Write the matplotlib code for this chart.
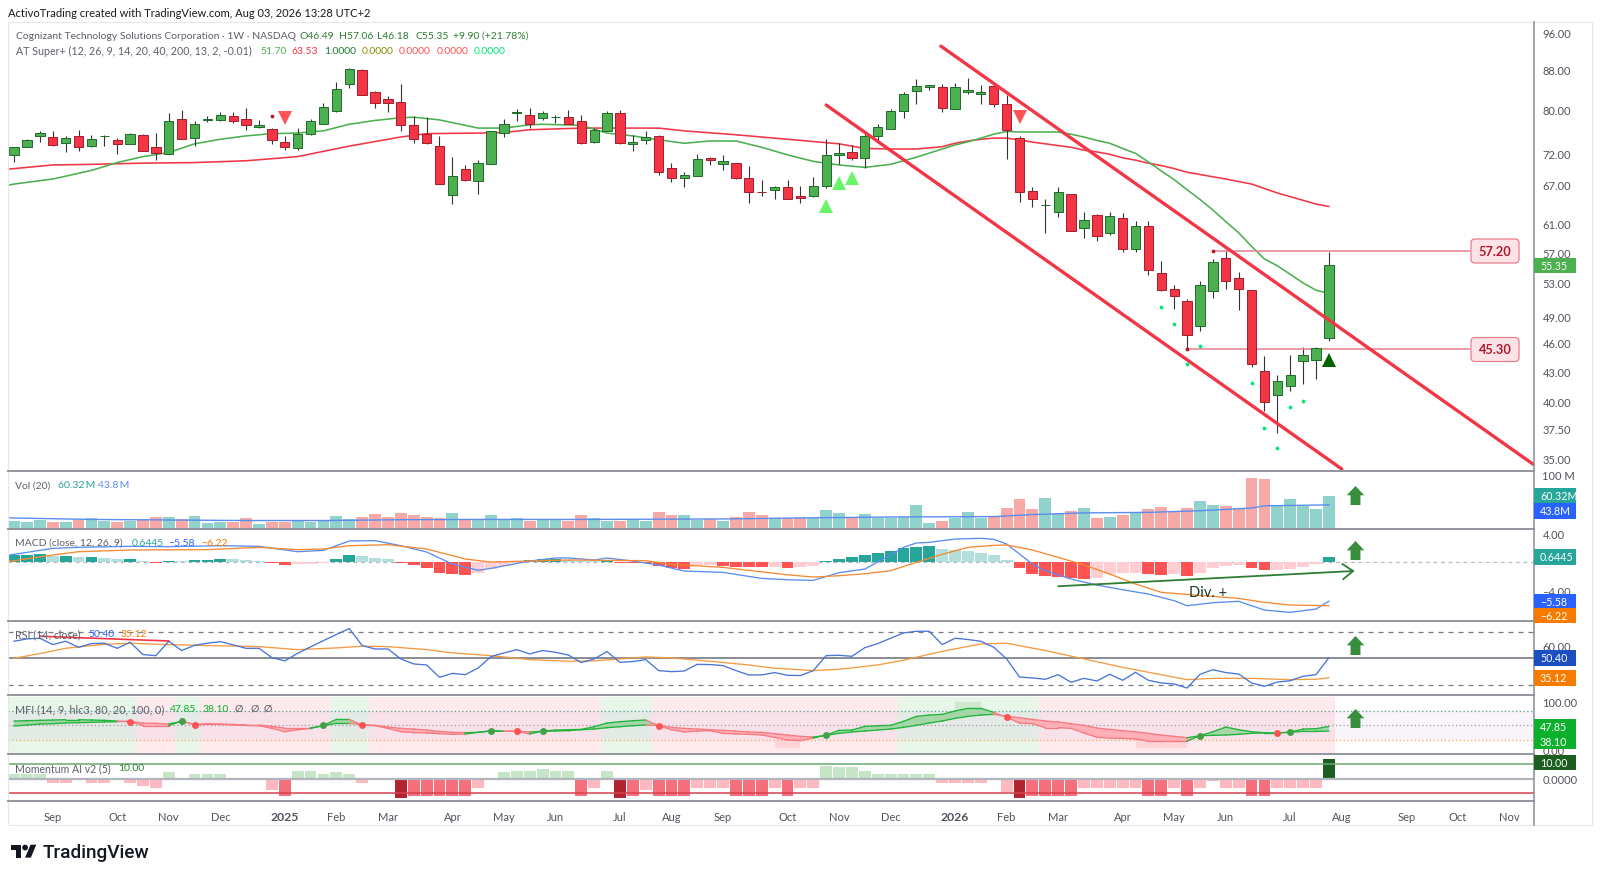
import matplotlib
matplotlib.use("Agg")
import matplotlib.pyplot as plt
from matplotlib.patches import FancyBboxPatch, Rectangle, Polygon, Circle
from matplotlib.path import Path
from matplotlib.ticker import NullLocator, FixedLocator, FixedFormatter

plt.rcParams['font.family'] = ['Lato', 'DejaVu Sans']

# ---------------- OHLC (weekly) ----------------
opens = [71.7,73.2,75.0,74.9,73.8,75.1,73.4,75.0,74.4,73.7,75.3,73.1,72.0,78.1,74.8,78.0,78.0,78.7,78.2,76.7,
         76.4,74.1,72.9,75.5,77.3,79.6,85.0,87.7,83.4,81.9,81.3,77.1,75.4,73.4,65.3,69.4,67.5,70.2,75.6,79.3,
         79.0,78.4,78.5,78.5,77.8,74.0,76.0,79.2,73.6,74.4,75.0,69.6,68.0,68.3,71.2,70.2,70.5,67.9,65.8,66.1,
         66.5,65.1,65.1,66.7,71.7,72.3,71.3,75.0,76.4,79.7,83.6,84.3,84.4,80.1,83.4,82.9,84.5,80.9,74.8,65.9,
         63.7,62.7,65.5,60.3,62.2,59.7,61.8,57.5,60.7,54.3,52.2,50.8,47.9,52.0,56.2,53.6,52.1,43.0,40.6,41.5,
         44.1,44.2,46.49]
highs = [73.2,74.5,76.0,75.9,75.1,76.1,75.2,75.2,74.8,75.6,75.5,75.6,79.3,79.9,77.8,78.8,79.4,79.5,80.2,78.0,
         76.6,75.1,76.6,78.2,81.2,85.3,88.3,88.0,83.5,82.6,85.0,78.7,78.6,75.0,71.4,70.1,71.0,76.0,78.2,80.0,
         80.2,79.6,79.0,79.9,79.0,76.6,79.7,79.8,75.3,76.0,75.2,70.4,69.0,71.9,71.5,71.7,70.5,69.9,67.6,66.7,
         67.7,66.7,68.2,74.5,73.8,73.5,75.6,77.2,80.1,83.4,86.0,84.7,85.0,85.2,86.2,84.7,85.0,82.8,75.1,66.6,
         64.6,66.5,65.5,62.7,62.4,62.7,62.5,61.4,61.4,55.8,52.8,51.0,53.2,56.1,57.3,54.4,52.1,44.6,42.6,44.7,
         45.5,45.5,57.06]
lows = [70.6,73.1,74.0,73.4,72.3,72.5,73.1,73.4,71.9,73.7,72.4,70.9,72.0,74.6,73.3,77.6,77.8,77.4,76.1,76.5,
        73.7,72.7,72.7,75.3,77.2,79.4,84.2,82.7,80.3,79.5,76.0,73.8,73.7,67.0,63.9,67.5,65.4,70.2,74.9,77.8,
        76.6,77.9,77.5,77.2,73.7,73.9,76.0,73.7,72.5,73.7,68.5,67.3,66.6,68.3,70.1,69.2,67.8,64.1,65.1,64.7,
        64.6,64.1,65.0,66.4,70.2,70.9,69.6,73.9,76.3,78.4,80.9,83.7,79.5,80.1,82.9,81.0,80.5,71.1,64.2,63.4,
        59.7,62.0,59.9,59.0,58.5,59.4,57.0,57.1,54.0,52.0,49.8,45.3,47.3,51.2,52.3,49.7,43.4,39.1,37.1,41.0,
        41.7,42.2,46.18]
closes = [73.2,74.3,75.7,73.5,74.8,73.2,74.5,75.1,73.6,75.5,72.4,72.1,77.8,74.6,77.2,78.2,78.9,77.8,77.1,77.0,
          74.3,73.2,75.5,77.8,80.4,83.9,88.1,82.7,81.2,81.1,77.1,74.6,73.8,67.0,68.3,67.6,70.4,75.9,77.2,79.4,
          77.2,79.3,78.6,77.2,73.8,76.1,79.3,73.8,74.1,74.9,69.0,68.0,68.5,71.1,71.0,70.7,67.9,65.7,65.7,66.5,
          64.6,64.8,66.7,71.7,72.1,71.3,75.0,76.7,79.6,83.0,84.5,84.7,80.3,84.4,83.8,83.3,80.9,76.1,65.7,64.6,
          63.8,65.7,59.9,61.5,59.3,62.1,57.5,60.7,54.7,52.1,51.4,46.8,52.7,55.7,53.2,52.2,43.7,40.0,42.0,42.6,
          44.7,45.45,55.35]

# moving averages read at bar positions
ma_fast_idx = [-0.5,0,3,6,8,10,12,14,16,18,20,22,24,26,28,30,31,33,35,36,38,40,41,44,46,48,50,52,54,56,58,60,62,63,64,66,68,70,72,73,74,75,76,77,78,81,82,83,84,85,86,87,88,89,90,91,92,93,94,95,96,97,98,99,100,101,102]
ma_fast_val = [66.8,67.0,67.8,69.2,70.5,71.5,72.2,73.7,74.5,75.1,75.5,75.6,76.0,77.2,77.9,78.4,78.5,78.0,77.0,76.5,76.5,77.1,77.2,77.0,75.6,75.1,74.4,73.8,74.2,74.2,73.1,71.8,70.7,70.4,70.1,69.7,70.2,71.4,72.8,73.5,74.05,74.7,75.4,75.9,75.8,75.8,75.4,74.9,74.3,73.8,72.9,72.05,70.6,69.1,67.7,66.1,64.6,63.0,61.3,59.7,57.8,56.1,55.2,54.1,53.0,52.1,51.7]
ma_slow_idx = [-0.5,0,3,6,10,14,18,22,24,26,28,30,32,36,38,40,44,50,52,56,60,64,66,68,70,72,73,74,75,76,77,78,79,80,81,82,83,84,85,86,87,88,89,90,91,94,96,98,101,102]
ma_slow_val = [69.4,69.5,70.1,70.2,70.4,70.5,70.8,71.5,72.4,73.3,74.1,74.9,75.5,75.6,75.7,76.2,76.5,76.5,76.0,75.3,74.5,73.7,72.9,72.8,72.8,73.2,73.8,74.2,74.5,74.7,74.7,74.4,74.0,73.7,73.4,73.1,72.6,72.3,71.9,71.3,70.9,70.4,70.0,69.5,68.9,67.8,67.0,65.6,63.9,63.53]

# AT Super+ signals
tri_up_idx = [63,64,65]
tri_up_val = [63.6,67.1,67.9]
tri_dn_idx = [21,78]
tri_dn_val = [78.4,78.5]
tri_buy_idx = [102]
tri_buy_val = [44.2]
dot_green_idx = [89,90,91,92,96,97,98,99,100]
dot_green_val = [50.1,48.1,43.7,45.6,41.8,37.6,35.8,39.5,40.1]
dot_red_idx = [20,91,93]
dot_red_val = [78.8,45.3,57.2]

# drawn lines
upper_trend_idx = [71.9,117.9]
upper_trend_val = [92.9,34.45]
lower_trend_idx = [63.0,103.0]
lower_trend_val = [80.8,34.1]
level_hi_idx = [93,112.9]
level_hi_val = 57.20
level_lo_idx = [91,112.9]
level_lo_val = 45.30

price_ticks = [96,88,80,72,67,61,57,53,49,46,43,40,37.5,35]
price_labels = ['96.00','88.00','80.00','72.00','67.00','61.00','57.00','53.00','49.00','46.00','43.00','40.00','37.50','35.00']

# ---------------- Volume (M) ----------------
volume = [14.2,12.3,15.4,13,13,16.7,19.1,14.2,13,13.6,17.3,21,21,17.9,22.8,9.9,13,13,19.1,8,
          11.7,11.7,15.4,11.7,14.2,22.8,18.5,21,26.5,21,28.4,24.7,21,19.7,29.6,16,18.5,24.7,16,19.1,
          14.8,17.3,17.9,13.6,24.7,20.4,14.8,14.8,18.5,14.8,30.9,24.7,24.7,16,18.5,14.8,22.2,30.9,24.7,19.1,
          19.1,19.1,19.1,33.9,29.6,21,26.5,19.1,19.1,22.2,43.8,9.9,13.6,19.1,30.9,19.7,22.2,38.9,53.7,35.8,
          56.1,27.8,32.1,37.6,19.1,21,24.7,29.6,35.8,40.7,33.3,38.9,51.8,43.8,42,37.6,93.8,91.3,42,53.7,
          42,35.8,60.32]
vol_ma_idx = [-0.5,0,6,12,18,24,30,36,44,50,56,60,68,76,79,83,88,92,94,96,97,102]
vol_ma_val = [20,19.7,17,16,15,15,16.5,17,17,17.5,18,19.5,21.5,22.2,26,29,30,33,35.5,38,42,43.8]

# ---------------- MACD ----------------
macd_idx = [-0.5,0,3,5,9,12,16,19,22,24,26,28,30,32,34,36,37,40,42,43,45,46,48,50,52,55,58,60,62,64,66,67,68,69,70,71,72,73,75,76,77,78,79,80,82,84,86,88,90,91,93,95,97,99,101,102]
macd_val = [0.9,1.04,1.88,2.03,2.17,2.12,2.26,2.17,1.41,1.6,2.92,2.97,2.26,1.37,-0.33,-1.22,-0.94,0.09,0.52,0.52,0.24,0.52,0.09,-0.47,-1.32,-1.51,-2.36,-2.55,-2.64,-1.55,-1.04,-0.05,0.94,2.03,2.64,2.73,2.97,3.2,3.3,3.16,2.5,1.08,-0.33,-1.27,-2.45,-3.3,-3.96,-4.57,-5.51,-6.22,-5.79,-5.6,-6.83,-7.16,-6.69,-5.58]
signal_idx = [-0.5,0,3,5,9,15,19,22,24,26,29,32,35,37,43,49,51,55,60,62,64,66,68,70,72,74,76,77,79,81,83,85,87,89,91,93,95,97,99,102]
signal_val = [0.05,0.14,0.94,1.41,1.65,1.7,2.03,1.7,1.79,2.26,2.4,1.79,0.38,-0.05,0.24,0.14,-0.38,-0.8,-1.85,-2.17,-1.98,-1.7,-1.27,-0.09,1.04,2.03,2.31,2.36,1.65,0.61,-0.47,-1.74,-3.16,-4.33,-4.62,-4.9,-5.18,-5.75,-6.12,-6.22]
hist = [0.99,0.99,1.13,0.85,0.85,0.66,0.66,0.47,0.38,0.38,0.14,-0.14,0.14,0.12,0.28,0.29,0.38,0.33,0.19,0.14,
        -0.14,-0.42,-0.38,-0.33,-0.14,0.38,0.89,0.75,0.57,0.42,-0.14,-0.47,-0.94,-1.55,-1.79,-1.88,-1.65,-1.04,-0.57,-0.19,
        0.19,0.38,0.4,0.19,0.14,0.12,0.28,-0.14,-0.19,-0.2,-0.57,-0.89,-1.04,-0.47,-0.45,-0.57,-0.75,-0.77,-0.78,-0.7,
        -0.89,-0.71,-0.57,0.09,0.42,0.66,0.94,1.27,1.55,1.93,2.12,2.15,1.74,1.7,1.55,1.22,0.89,0.24,-0.94,-1.7,
        -2.03,-2.17,-2.31,-2.45,-2.36,-1.74,-1.6,-1.55,-1.8,-1.9,-1.8,-2.07,-1.55,-0.89,-0.66,-0.47,-0.85,-1.18,-1.13,-1.04,
        -0.71,-0.38,0.6445]
div_idx = [81,104]
div_val = [-3.47,-1.31]

# ---------------- RSI ----------------
rsi = [63,64.8,65.3,60.4,63,58.4,61.2,61.5,57.6,62.2,52.8,52,63,55.9,59.9,61.5,62.7,60.2,57.6,57.6,
       50.5,48,53.8,58.7,63.5,68.1,72.7,59.7,57.1,57.1,49.5,45.7,44.9,35.5,38.5,37.5,42.6,51.3,54.1,56.6,
       53.3,55.9,54.6,52.5,46.7,49.5,55.1,46.9,47.5,49,40.6,39.8,40.3,45.4,45.2,44.4,40.6,37.3,37.3,39.1,
       37,36.8,40.6,52,52.3,51.5,58.1,61.2,65.3,69.3,70.6,70.6,60.4,65.3,64.3,63,58.4,49.5,35.7,35,
       34,37.5,31.7,34.7,32.7,37.8,33.2,39.3,33.2,31.2,30.4,27.3,37.8,41.3,39.1,38,31.2,28.6,31.9,32.9,
       36.3,37.5,50.40]
rsi_ma_idx = [0,2,4,7,9,11,15,19,22,25,27,29,32,34,37,40,43,45,47,49,51,54,57,59,60,62,64,67,69,72,75,77,80,83,86,91,93,96,99,101,102]
rsi_ma_val = [50,53.6,57.6,60.7,61.5,60.7,59.7,58.9,56.6,57.9,59.2,58.9,56.6,54.1,52,49,47.7,48,49.5,51,50.3,47.7,44.9,42.4,41.9,40.6,41.6,44.9,48.5,55.3,60.9,61.5,55.9,49.5,43.1,33.7,34.7,34.7,33.7,34,35.12]
rsi_red_idx = [2,12]
rsi_red_val = [66.8,63.2]

# ---------------- MFI ----------------
mfi_fast = [59.2,59.9,60.6,61.3,61.95,61.95,61.3,60.6,59.2,57.8,49.4,49.4,49.4,59.2,50.8,52.2,52.2,50.8,50.1,49.4,
            43.8,36.8,41,43.8,50.1,62.6,62.6,50.8,49.4,43.8,36.8,34.8,34.1,32.7,31.3,32,35.5,38.9,38.2,37.5,
            32,38.2,40.3,41,41.7,47.3,55,57.8,59.9,61.3,49.4,41,36.2,38.2,38.9,33.4,32,31.3,29.9,25,
            19.4,18,23.6,29.9,39.6,40.3,47.9,49.4,50.1,58.5,68.9,71.7,73.1,80.1,85.7,85.7,77.3,66.8,54.9,53.6,
            45.2,45.2,43.8,34.1,25,23.6,22.9,21.5,17.3,17.3,17.3,17.3,28.5,36.8,46.6,41,36.8,34.8,34.1,36.2,
            42.4,43.1,47.85]
mfi_slow = [48.7,50.8,52.9,53.6,55,55.7,56.4,57.1,57.8,58.5,55,54.3,52.9,58.5,52.2,53.6,52.9,52.2,50.8,50.8,
            48,44.5,44.5,44.5,49.4,54.3,54.3,51.5,50.1,46.6,43.8,42.4,40.3,37.5,35.5,34.8,35.5,38.2,37.5,38.2,
            36.2,37.5,38.2,38.9,41,42.4,45.2,47.3,49.4,50.8,50.1,45.9,43.8,42.4,41,39.6,38.2,36.2,35.5,32.7,
            29.9,27.1,25.7,29.2,33.4,36.2,38.2,40.3,42.4,45.9,50.1,55,59.2,64.7,68.9,71.7,73.1,68.9,66.1,62.6,
            59.2,57.1,53.6,50.1,44.5,41.7,38.9,36.8,33.4,29.9,27.1,24.3,28.5,29.2,29.9,31.3,33.4,34.1,34.1,35.5,
            37.5,37.5,38.10]
mfi_red_dots = [9,14,27,39,50,77,98]
mfi_green_dots = [13,24,37,41,63,92,99]
mfi_green_spans = [(-0.5,9.5),(12.5,14.5),(24.5,27.5),(45.5,49.5),(68.5,79.5)]
mfi_red_spans = [(9.5,12.5),(14.5,24.5),(27.5,45.5),(49.5,68.5),(79.5,102.5)]
mfi_low_spans = [(59,61),(87,91)]
mfi_high_spans = [(73,75)]

# ---------------- Momentum AI ----------------
momentum = [3.2,3.2,3.2,-2.7,-2.7,0,-2.7,-2.7,0,-2.7,-5,-6.4,4.3,0,3.2,3.2,3.2,0,0,0,
            -7.7,-11.6,5.4,5.4,3.2,4.3,3.2,-2.7,0,0,-12.9,-11.6,-11.6,-11.6,-11.6,-11.6,-6.4,0,4.3,5.4,
            5.4,6.6,5.4,5.4,-11.6,-6.4,5.4,-12.9,-11.6,-7.7,-11.6,-11.6,-11.6,-6.4,-6.4,-6.4,-11.6,-11.6,-11.6,-6.4,
            -11.6,-6.4,-6.4,8.8,7.9,7.9,5.4,3.2,3.2,3.2,3.2,3.2,-2.7,-2.7,-2.7,-2.7,0,-9,-12.9,-11.6,
            -11.6,-11.6,-11.6,-6.4,-6.4,-6.4,-6.4,-6.4,-11.6,-11.6,-6.4,-11.6,-6.4,-1.4,-6.4,-6.4,-11.6,-11.6,-6.4,-6.4,
            -6.4,-6.4,13.2]

# ---------------- Time axis ----------------
time_ticks = [3,8,12,16,21,25,29,34,38,42,47,51,55,60,64,68,73,77,81,86,90,94,99,103,108,112,116]
time_labels = ['Sep','Oct','Nov','Dec','2025','Feb','Mar','Apr','May','Jun','Jul','Aug','Sep','Oct','Nov','Dec','2026','Feb','Mar','Apr','May','Jun','Jul','Aug','Sep','Oct','Nov']
arrow_idx = 104

W, H = 1600, 879
fig = plt.figure(figsize=(16, 8.79), dpi=100, facecolor='white')
LEFT, RIGHT = 8, 1534
X0, DX = 14.1, 12.89
xlim = ((LEFT-X0)/DX, (RIGHT-X0)/DX)
def make_ax(top, bottom):
    ax = fig.add_axes([LEFT/W, 1-bottom/H, (RIGHT-LEFT)/W, (bottom-top)/H])
    ax.set_xlim(*xlim)
    ax.patch.set_alpha(0)
    for s in ax.spines.values():
        s.set_visible(False)
    ax.yaxis.tick_right()
    ax.tick_params(axis='y', length=0, pad=6, labelsize=8.0, labelcolor='#50535e')
    ax.tick_params(axis='x', length=0, labelbottom=False)
    ax.xaxis.set_major_locator(NullLocator())
    return ax

TOPS = [23.3, 472, 529.7, 622.3, 696, 755]
BOTS = [472, 529.7, 622.3, 696, 755, 802.3]
ax_p = make_ax(TOPS[0], BOTS[0])
ax_v = make_ax(TOPS[1], BOTS[1])
ax_m = make_ax(TOPS[2], BOTS[2])
ax_r = make_ax(TOPS[3], BOTS[3])
ax_f = make_ax(TOPS[4], BOTS[4])
ax_a = make_ax(TOPS[5], BOTS[5])

n = len(closes)
xs = list(range(n))
GREEN, RED = '#4caf50', '#f23645'
GREEN_E, RED_E = '#1f6b2c', '#a81c2c'
up = [c >= o for o, c in zip(opens, closes)]

# ---- price pane
ax_p.set_yscale('log')
ax_p.set_ylim(33.94, 98.3)
ax_p.yaxis.set_major_locator(FixedLocator(price_ticks))
ax_p.yaxis.set_major_formatter(FixedFormatter(price_labels))
ax_p.yaxis.set_minor_locator(NullLocator())
ax_p.plot(ma_slow_idx, ma_slow_val, color=RED, lw=1.15, zorder=2, solid_joinstyle='round')
ax_p.plot(ma_fast_idx, ma_fast_val, color=GREEN, lw=1.15, zorder=2, solid_joinstyle='round')
ax_p.vlines(xs, lows, highs, color='#333333', lw=0.8, zorder=3)
ax_p.bar(xs, [abs(c-o) for o, c in zip(opens, closes)], bottom=[min(o, c) for o, c in zip(opens, closes)], width=0.72,
         color=[GREEN if u else RED for u in up], edgecolor=[GREEN_E if u else RED_E for u in up], lw=0.7, zorder=4)
ax_p.plot(level_hi_idx, [level_hi_val]*2, color='#e58a95', lw=1.2, zorder=3)
ax_p.plot(level_lo_idx, [level_lo_val]*2, color='#e58a95', lw=1.2, zorder=3)
ax_p.plot(upper_trend_idx, upper_trend_val, color=RED, lw=2.4, zorder=5, solid_capstyle='round')
ax_p.plot(lower_trend_idx, lower_trend_val, color=RED, lw=2.4, zorder=5, solid_capstyle='round')
ax_p.plot(tri_up_idx, tri_up_val, '^', color='#69f569', ms=9.8, mew=0, zorder=6)
ax_p.plot(tri_dn_idx, tri_dn_val, 'v', color='#ff5252', ms=9.8, mew=0, zorder=6)
ax_p.plot(tri_buy_idx, tri_buy_val, '^', color='#006400', ms=9.8, mew=0, zorder=6)
ax_p.plot(dot_green_idx, dot_green_val, 'o', color='#00e676', ms=2.7, mew=0, zorder=6)
ax_p.plot(dot_red_idx, dot_red_val, 'o', color='#b2182b', ms=2.7, mew=0, zorder=6)

# ---- up arrow marker
arrow_path = Path([(0, 1), (0.92, 0.02), (0.52, 0.02), (0.52, -1), (-0.52, -1), (-0.52, 0.02), (-0.92, 0.02), (0, 1)], closed=True)
def up_arrow(ax, y):
    ax.plot([arrow_idx], [y], marker=arrow_path, color='#388e3c', ms=13.7, mew=0, zorder=7, clip_on=False)

# ---- volume
ax_v.set_ylim(0, 106)
ax_v.set_yticks([100]); ax_v.set_yticklabels(['100 M'])
ax_v.bar(xs, volume, width=0.92, color=['#92d2cc' if u else '#f7a9a7' for u in up], lw=0, zorder=2)
ax_v.plot(vol_ma_idx, vol_ma_val, color='#5b8def', lw=1.0, zorder=3)
up_arrow(ax_v, 62)

# ---- MACD
ax_m.set_ylim(-8.42, 4.66)
ax_m.set_yticks([4, -4]); ax_m.set_yticklabels(['4.00', '\u22124.00'])
ax_m.axhline(0, color='#b5b8c0', lw=0.9, ls=(0, (3, 3)), zorder=1)
hc = []
for i, v in enumerate(hist):
    prev = hist[i-1] if i else v - 0.1
    if v >= 0:
        hc.append('#26a69a' if v >= prev else '#b2dfdb')
    else:
        hc.append('#ff5252' if v < prev else '#ffcdd2')
ax_m.bar(xs, hist, width=0.92, color=hc, lw=0, zorder=2)
ax_m.plot(macd_idx, macd_val, color='#5b8def', lw=0.95, zorder=3)
ax_m.plot(signal_idx, signal_val, color='#f58a33', lw=0.95, zorder=3)
ax_m.annotate('', xy=(div_idx[1], div_val[1]), xytext=(div_idx[0], div_val[0]),
              arrowprops=dict(arrowstyle='->,head_length=0.75,head_width=0.55', color='#2e7d32', lw=1.3, shrinkA=0, shrinkB=0), zorder=6)
ax_m.text(92.6, -4.32, 'Div. +', fontsize=10.5, color='#173a2a', ha='center', va='center', zorder=7)
up_arrow(ax_m, 1.6)

# ---- RSI
ax_r.set_ylim(22, 78.2)
ax_r.set_yticks([60]); ax_r.set_yticklabels(['60.00'])
ax_r.axhline(70, color='#787b86', lw=0.9, ls=(0, (4, 4)))
ax_r.axhline(30, color='#787b86', lw=0.9, ls=(0, (4, 4)))
ax_r.axhline(50, color='#6a6d78', lw=1.1)
ax_r.plot(rsi_ma_idx, rsi_ma_val, color='#f59b42', lw=0.95, zorder=3)
ax_r.plot(xs, rsi, color='#4a74d8', lw=0.95, zorder=4)
ax_r.plot(rsi_red_idx, rsi_red_val, color=RED, lw=1.2, zorder=5)
up_arrow(ax_r, 60.5)

# ---- MFI
ax_f.set_ylim(-9.8, 113.6)
ax_f.set_yticks([100, 0]); ax_f.set_yticklabels(['100.00', '0.00'])
for a, b in mfi_green_spans:
    ax_f.fill_between([a, b], -8.4, 108.8, color='#e8f5e9', lw=0, zorder=1)
for a, b in mfi_red_spans:
    ax_f.fill_between([a, b], -8.4, 108.8, color='#ffebee', lw=0, zorder=1)
for a, b in mfi_low_spans:
    ax_f.fill_between([a, b], 2, 20, color='#ffd5d9', lw=0, zorder=2)
for a, b in mfi_high_spans:
    ax_f.fill_between([a, b], 80.8, 100, color='#cfe9cf', lw=0, zorder=2)
ax_f.axhspan(20, 80, color='#9c27b0', alpha=0.05, lw=0, zorder=2)
ax_f.axhline(80, color='#4f9f97', lw=0.9, ls=(0, (1, 2)), zorder=3)
ax_f.axhline(50, color='#9a9aa2', lw=0.9, ls=(0, (1, 2)), zorder=3)
ax_f.axhline(20, color='#f5a64b', lw=0.9, ls=(0, (1, 2)), zorder=3)
pos = [f >= s for f, s in zip(mfi_fast, mfi_slow)]
neg = [not p for p in pos]
ax_f.fill_between(xs, mfi_fast, mfi_slow, where=pos, interpolate=True, color='#a5d6a7', lw=0, zorder=4)
ax_f.fill_between(xs, mfi_fast, mfi_slow, where=neg, interpolate=True, color='#ffb0b6', lw=0, zorder=4)
for i in range(n-1):
    c = '#1eb53a' if pos[i+1] else '#f77a80'
    ax_f.plot([i, i+1], mfi_fast[i:i+2], color=c, lw=0.95, zorder=5)
    ax_f.plot([i, i+1], mfi_slow[i:i+2], color=c, lw=0.95, zorder=5)
ax_f.plot(mfi_red_dots, [mfi_fast[i] for i in mfi_red_dots], 'o', color='#ff5252', ms=5, mew=0, zorder=6)
ax_f.plot(mfi_green_dots, [mfi_fast[i] for i in mfi_green_dots], 'o', color='#43a047', ms=5, mew=0, zorder=6)
up_arrow(ax_f, 66)

# ---- Momentum
ax_a.set_ylim(-15.4, 16.8)
ax_a.set_yticks([0]); ax_a.set_yticklabels(['0.0000'])
def mom_color(v):
    if v > 10: return '#1b5e20'
    if v > 0: return '#c5e5c6'
    if v <= -12.5: return '#b2242f'
    if v <= -11: return '#f56f7d'
    return '#ffb8c0'
ax_a.axhline(10, color='#6aa86e', lw=1.1, zorder=3)
ax_a.axhline(-10, color='#d9424e', lw=1.1, zorder=3)
ax_a.bar(xs, momentum, width=0.92, color=[mom_color(v) for v in momentum], lw=0, zorder=2)
ax_a.axhline(0, color='#b2b5be', lw=1.6, zorder=4)
ax_a.set_xticks(time_ticks)
ax_a.set_xticklabels(time_labels)
ax_a.tick_params(axis='x', labelbottom=True, labelsize=8.0, labelcolor='#50535e', pad=7)
for lab in ax_a.get_xticklabels():
    if lab.get_text().isdigit():
        lab.set_fontweight('bold')
        lab.set_fontsize(8.8)

# ---------------- overlay: frame, labels, legends (pixel layout) ----------------
ov = fig.add_axes([0, 0, 1, 1], zorder=20)
ov.set_xlim(0, W); ov.set_ylim(H, 0); ov.axis('off'); ov.patch.set_alpha(0)

ov.add_patch(Rectangle((8, 23.3), 1584, 802.7, fill=False, ec='#e6e8ee', lw=0.9))
ov.plot([RIGHT, RIGHT], [23.3, 826], color='#8a8d96', lw=1.1)
for y in BOTS:
    ov.plot([LEFT, RIGHT], [y, y], color='#8a8d96', lw=1.3)

LEG = 7.5
def T(x, y, s, color='#5d606b', size=LEG, **kw):
    ov.text(x, y, s, color=color, fontsize=size, va='center', ha=kw.pop('ha', 'left'), **kw)

T(8, 13.5, 'ActivoTrading created with TradingView.com, Aug 03, 2026 13:28 UTC+2', '#1a1a1a', 8.05)
T(15.5, 36.3, 'Cognizant Technology Solutions Corporation \u00b7 1W \u00b7 NASDAQ')
dkg = '#2e7d32'
for x, s in [(299.6, 'O46.49'), (338.5, 'H57.06'), (377.4, 'L46.18'), (415, 'C55.35'), (453, '+9.90 (+21.78%)')]:
    T(x, 36.3, s, dkg)
T(15.5, 51, 'AT Super+ (12, 26, 9, 14, 20, 40, 200, 13, 2, -0.01)', size=7.7)
for x, s, c in [(260, '51.70', GREEN), (291.7, '63.53', RED), (324.4, '1.0000', '#1b7a2b'), (361.6, '0.0000', '#8a8a00'),
                (398.8, '0.0000', '#ff5252'), (436.6, '0.0000', '#ff5252'), (473.8, '0.0000', '#00e676')]:
    T(x, 51, s, c)

T(15.3, 485.7, 'Vol (20)')
T(57.6, 485.7, '60.32\u2009M', '#26a69a')
T(98.5, 485.7, '43.8\u2009M', '#5b8def')
T(15.3, 543.3, 'MACD (close, 12, 26, 9)')
T(131.6, 543.3, '0.6445', '#26a69a')
T(168, 543.3, '\u22125.58', '#2962ff')
T(201.5, 543.3, '\u22126.22', '#f57c00')
T(15.3, 635, 'RSI (14, close)', size=7.7)
T(88, 635, '50.40', '#2962ff')
T(121, 635, '35.12', '#f57c00')
T(15.3, 709.3, 'MFI (14, 9, hlc3, 80, 20, 100, 0)', size=7.8)
T(170, 709.3, '47.85', '#0db02b')
T(202.5, 709.3, '38.10', '#0db02b')
for x in (234.7, 250.5, 263.8):
    T(x, 709.3, '\u00d8')
T(15.3, 769, 'Momentum AI v2 (5)', size=7.6)
T(118, 769, '10.00', '#2e7d32')

# level labels
for yc, s in [(252, '57.20'), (350.5, '45.30')]:
    ov.add_patch(FancyBboxPatch((1471, yc-12), 48, 24, boxstyle='round,pad=0,rounding_size=4',
                                fc='#fde3e6', ec='#e8808c', lw=0.9, mutation_aspect=1))
    T(1495, yc, s, '#b2182b', 9.2, ha='center', fontweight='bold')

# last-value labels on the price scale
for yc, s, c in [(266.5, '55.35', '#4caf50'), (497, '60.32M', '#26a69a'), (512, '43.8M', '#2962ff'),
                 (558, '0.6445', '#26a69a'), (602.5, '\u22125.58', '#2962ff'), (616.5, '\u22126.22', '#f57c00'),
                 (659, '50.40', '#1e4fc0'), (679, '35.12', '#f57c00'), (727.5, '47.85', '#0db02b'),
                 (742.5, '38.10', '#0db02b'), (763.5, '10.00', '#1b5e20')]:
    ov.add_patch(Rectangle((RIGHT, yc-7.7), 41.5, 15.4, fc=c, ec='none', zorder=5))
    T(1540, yc, s, 'white', 7.7, zorder=6)

# TradingView logo
S, LX, LY = 0.72, 10.7, 842.8
ov.add_patch(Polygon([(LX+S*a, LY+S*b) for a, b in [(14,22),(7,22),(7,11),(0,11),(0,4),(14,4)]], fc='#131722', ec='none'))
ov.add_patch(Polygon([(LX+S*a, LY+S*b) for a, b in [(28,22),(20,22),(27.5,4),(35.5,4)]], fc='#131722', ec='none'))
ov.add_patch(Circle((LX+S*20, LY+S*8), 4*S, fc='#131722', ec='none'))
T(43, 853, 'TradingView', '#131722', 13.7, fontweight=500, family=['Roboto', 'DejaVu Sans'])

fig.savefig('out.png', dpi=100, facecolor='white')
